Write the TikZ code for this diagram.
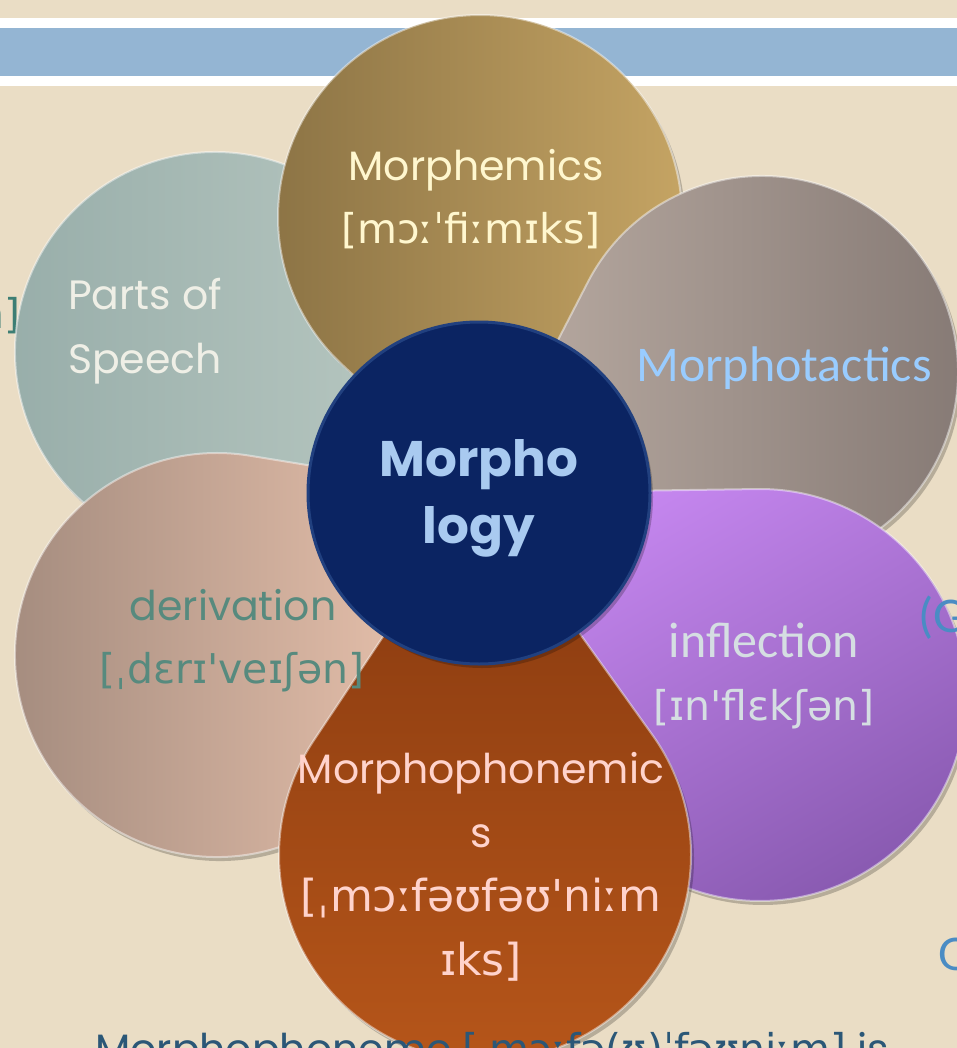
\documentclass[tikz,border=0pt]{standalone}
\usepackage{fontspec}
\setmainfont{Poppins}
\newfontfamily\ipafont{DejaVu Sans}
\newfontfamily\calfont{Carlito}
\usetikzlibrary{calc}
\definecolor{Paper}{HTML}{EADDC5}
\definecolor{Band}{HTML}{94B5D3}
\definecolor{GoldA}{HTML}{8A7244}
\definecolor{GoldB}{HTML}{C6A564}
\definecolor{SageA}{HTML}{97ADA9}
\definecolor{SageB}{HTML}{BCCBC4}
\definecolor{TaupeA}{HTML}{BBADA4}
\definecolor{TaupeB}{HTML}{847873}
\definecolor{BlushA}{HTML}{A28A7D}
\definecolor{BlushB}{HTML}{EFC7B1}
\definecolor{LilacA}{HTML}{C687F0}
\definecolor{LilacB}{HTML}{8A5BB2}
\definecolor{RustA}{HTML}{85380F}
\definecolor{RustB}{HTML}{B8571A}
\definecolor{Navy}{HTML}{0B2462}
\definecolor{NavyRim}{HTML}{21407F}
\definecolor{Cream}{HTML}{FFF7CF}
\definecolor{Chalk}{HTML}{EFEFE6}
\definecolor{Sky}{HTML}{99CCFF}
\definecolor{Teal}{HTML}{578A7E}
\definecolor{Mist}{HTML}{D5DEE2}
\definecolor{Pinkish}{HTML}{FFD3CC}
\definecolor{HubText}{HTML}{A9CAF0}
\definecolor{Ink}{HTML}{2B5777}
\definecolor{SideTeal}{HTML}{3D7E74}
\definecolor{SideBlue}{HTML}{4A8CC4}
\tikzset{
  petalshadow/.style={fill=black,opacity=0.22},
  rim/.style={draw=white,draw opacity=0.45,line width=2pt},
  word/.style={anchor=base,inner sep=0pt,font=\fontsize{41}{49}\selectfont},
  ipa/.style={anchor=base,inner sep=0pt,font=\ipafont\fontsize{41}{49}\selectfont},
  bigipa/.style={ipa,font=\ipafont\fontsize{44}{52}\selectfont},
  calword/.style={anchor=base,inner sep=0pt,font=\calfont\fontsize{50}{60}\selectfont},
  hubword/.style={anchor=base,inner sep=0pt,text=HubText,font=\bfseries\fontsize{50}{60}\selectfont},
  hub/.style={circle,minimum size=342pt,inner sep=0pt,fill=Navy,draw=NavyRim,line width=3pt}
}
\newcommand{\drawpetal}[4]{%
  \pgfmathsetmacro{\pang}{atan2(493-#2,479-#1)}%
  \pgfmathsetmacro{\pdist}{veclen(479-#1,493-#2)}%
  \pgfmathsetmacro{\popen}{acos(#3/\pdist)}%
  \fill[petalshadow,shift={(3,4)}] (479,493) -- ($(#1,#2)+(\pang+\popen:#3)$)
    arc[start angle=\pang+\popen,end angle=\pang-\popen+360,radius=#3] -- cycle;
  \shade[rim,#4] (479,493) -- ($(#1,#2)+(\pang+\popen:#3)$)
    arc[start angle=\pang+\popen,end angle=\pang-\popen+360,radius=#3] -- cycle;
}

\begin{document}
\begin{tikzpicture}[x=1pt,y=-1pt]
  \useasboundingbox (0,0) rectangle (957,1048);
  \clip (0,0) rectangle (957,1048);
  \fill[Paper] (0,0) rectangle (957,1048);
  \fill[white] (0,18) rectangle (957,86);
  \fill[Band] (0,28) rectangle (957,76);

  % text partly hidden behind the petals
  \node[ipa,anchor=base east,text=SideTeal] (leftcut) at (21,328) {n]};

  % petals, back to front
  \drawpetal{215}{352}{200}{left color=SageA,right color=SageB}
  \drawpetal{480}{217}{202}{left color=GoldA,right color=GoldB}
  \drawpetal{762}{372}{196}{left color=TaupeA,right color=TaupeB}
  \drawpetal{217}{655}{202}{left color=BlushA,right color=BlushB}
  \drawpetal{760}{695}{206}{top color=LilacA,bottom color=LilacB,shading angle=30}
  \drawpetal{485}{855}{206}{top color=RustA,bottom color=RustB}

  \fill[petalshadow] (482,497) circle[radius=171];
  \node[hub] (hub) at (479,493) {};

  \node[word,text=Cream] (morphemics) at (476,181) {Morphemics};
  \node[ipa,text=Cream] (morphemicsipa) at (471,244) {[mɔːˈfiːmɪks]};
  \node[word,anchor=base west,text=Chalk] (parts) at (68,309) {Parts of};
  \node[word,anchor=base west,text=Chalk] (speech) at (68,373) {Speech};
  \node[calword,text=Sky] (tactics) at (784,381) {Morphotactics};
  \node[word,text=Teal] (derivation) at (233,620) {derivation};
  \node[ipa,text=Teal] (derivationipa) at (232,683) {[ˌdɛrɪ'veɪʃən]};
  \node[calword,text=Mist] (inflection) at (764,657) {inflection};
  \node[ipa,text=Mist] (inflectionipa) at (764,720) {[ɪn'flɛkʃən]};
  \node[word,text=Pinkish] (phon) at (481,783) {Morphophonemic};
  \node[word,text=Pinkish] (phonb) at (481,847) {s};
  \node[bigipa,text=Pinkish] (phonipa) at (481,911) {[ˌmɔːfəʊfəʊ'niːm};
  \node[bigipa,text=Pinkish] (phonipab) at (481,975) {ɪks]};
  \node[hubword] (hubtop) at (479,476) {Morpho};
  \node[hubword] (hubbot) at (479,543) {logy};

  \node[word,anchor=base west,text=Ink] (note) at (95,1063) {Morphophoneme {\ipafont[ˌmɔːfə(ʊ)ˈfəʊniːm]} is};
  \node[calword,anchor=base west,text=SideBlue] (rightcut) at (918,632) {(G};
  \node[calword,anchor=base west,text=SideBlue] (rightcutb) at (938,970) {G};
\end{tikzpicture}
\end{document}
